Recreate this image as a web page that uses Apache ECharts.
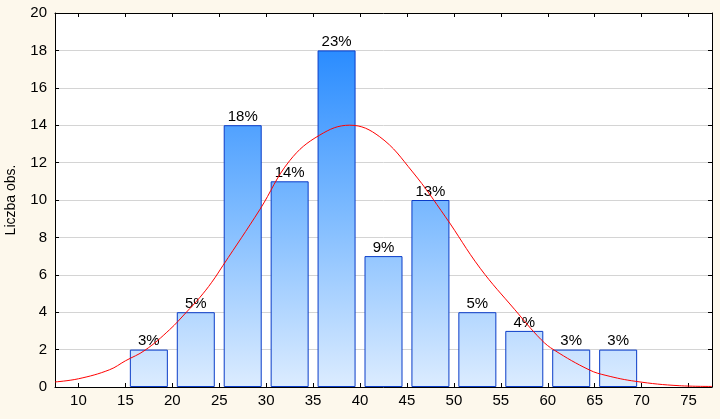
<!DOCTYPE html>
<html><head><meta charset="utf-8">
<script src="https://cdn.jsdelivr.net/npm/echarts@6/dist/echarts.min.js"></script>
<style>html,body{margin:0;padding:0;background:#fdf8ec;}#c{width:720px;height:419px;}</style>
</head><body><div id="c"></div>
<script>
const binCenters = [17.5, 22.5, 27.5, 32.5, 37.5, 42.5, 47.5, 52.5, 57.5, 62.5, 67.5];
const counts = [2, 4, 14, 11, 18, 7, 10, 4, 3, 2, 2];
const percentLabels = ['3%', '5%', '18%', '14%', '23%', '9%', '13%', '5%', '4%', '3%', '3%'];
const xTickValues = [10, 15, 20, 25, 30, 35, 40, 45, 50, 55, 60, 65, 70, 75];
const curveX = [7.5, 10, 13.3, 15, 17.1, 19.7, 21.5, 22.9, 24.2, 25.4, 29.3, 32.5, 35.7, 38.9, 42.1, 45.6, 49.1, 52.8, 56.5, 59.3, 60.7, 64.4, 66.2, 69.4, 74, 77.5];
const curveY = [0.27, 0.44, 0.92, 1.4, 1.97, 3.06, 4.0, 4.77, 5.6, 6.5, 9.47, 12.1, 13.47, 14.0, 13.38, 11.5, 9.1, 6.35, 4.13, 2.53, 1.97, 0.92, 0.62, 0.3, 0.07, 0.03];
const yName = 'Liczba obs.';

const chart = echarts.init(document.getElementById('c'));
const font = 'Liberation Sans, Arial, sans-serif';
chart.setOption({
  backgroundColor: '#fdf8ec',
  animation: false,
  grid: {left: 55, right: 8, top: 13, bottom: 32, containLabel: false, outerBoundsMode: 'none',
    backgroundColor: '#ffffff', show: true, borderWidth: 0},
  xAxis: [{
    type: 'value', min: 7.5, max: 77.5,
    axisLine: {onZero: false, lineStyle: {color: '#000', width: 1}},
    axisTick: {inside: true, length: 4, lineStyle: {color: '#000'}, customValues: xTickValues},
    axisLabel: {color: '#000', fontFamily: font, fontSize: 15, margin: 6, customValues: xTickValues},
    splitLine: {show: false}
  }, {
    type: 'value', position: 'top', min: 7.5, max: 77.5,
    axisLine: {onZero: false, lineStyle: {color: '#000', width: 1}},
    axisTick: {inside: true, length: 4, lineStyle: {color: '#000'}, customValues: xTickValues},
    axisLabel: {show: false}, splitLine: {show: false}
  }],
  yAxis: [{
    type: 'value', min: 0, max: 20, interval: 2,
    name: yName, nameLocation: 'middle', nameGap: 37, nameRotate: 90,
    nameTextStyle: {color: '#000', fontFamily: font, fontSize: 14},
    axisLine: {show: true, onZero: false, lineStyle: {color: '#000', width: 1}},
    axisTick: {show: true, inside: true, length: 4, lineStyle: {color: '#000'}},
    axisLabel: {color: '#000', fontFamily: font, fontSize: 15, margin: 8},
    splitLine: {show: true, lineStyle: {color: '#d4d4d4', width: 1}}
  }, {
    type: 'value', position: 'right', min: 0, max: 20, interval: 2,
    axisLine: {show: true, onZero: false, lineStyle: {color: '#000', width: 1}},
    axisTick: {show: true, inside: true, length: 4, lineStyle: {color: '#000'}},
    axisLabel: {show: false}, splitLine: {show: false}
  }],
  series: [{
    type: 'bar',
    barWidth: 38,
    data: binCenters.map((x, i) => [x, counts[i]]),
    itemStyle: {
      color: {type: 'linear', x: 0, y: 50, x2: 0, y2: 387, global: true,
        colorStops: [{offset: 0, color: '#2a8cff'}, {offset: 0.5, color: '#80bcff'}, {offset: 1, color: '#dcecff'}]},
      borderColor: '#0a3cc8', borderWidth: 1
    },
    label: {show: true, position: 'top', distance: 1, color: '#000', fontFamily: font, fontSize: 15,
      formatter: p => percentLabels[p.dataIndex]},
    z: 2
  }, {
    type: 'line', smooth: 0.4, symbol: 'none',
    data: curveX.map((x, i) => [x, curveY[i]]),
    lineStyle: {color: '#ff0000', width: 1},
    z: 3
  }]
});
</script></body></html>
